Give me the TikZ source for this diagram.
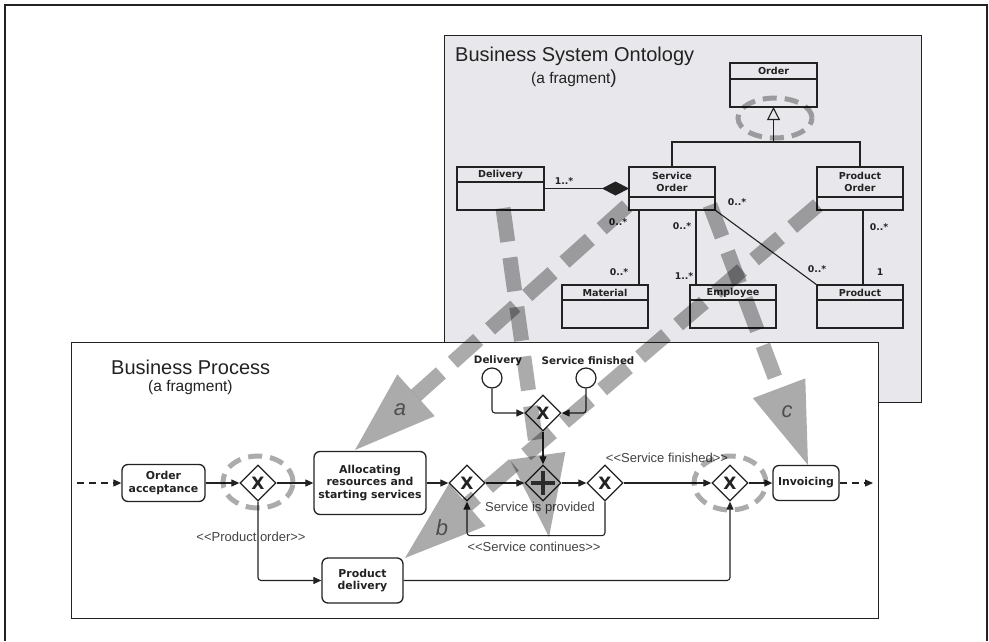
\documentclass[tikz,border=0pt]{standalone}
\usepackage{fontspec}
\setmainfont{Liberation Sans}
\newfontfamily\dvs{DejaVu Sans}
\usetikzlibrary{arrows.meta,calc,shapes.geometric}

\definecolor{ontobg}{HTML}{E8E8EC}
\definecolor{ink}{HTML}{222222}

\tikzset{
  frameline/.style={draw=ink, line width=1.4pt},
  umlbox/.style={draw=ink, line width=1.2pt, inner sep=0pt, outer sep=0pt},
  umlline/.style={draw=ink, line width=1.1pt},
  umltxt/.style={font=\dvs\bfseries\fontsize{9.6}{12}\selectfont, text=ink, align=center, inner sep=0pt},
  mult/.style={font=\dvs\bfseries\fontsize{9.3}{10}\selectfont, text=ink, inner sep=0pt},
  task/.style={draw=ink, line width=1.3pt, rounded corners=6pt, inner sep=0pt, align=center,
    font=\dvs\bfseries\fontsize{10.9}{12.4}\selectfont, text=ink},
  gate/.style={diamond, draw=ink, line width=1.3pt, fill=white, minimum width=36pt, minimum height=36pt,
    inner sep=0pt, font=\dvs\bfseries\fontsize{17}{17}\selectfont, text=ink},
  evt/.style={circle, draw=ink, line width=1.2pt, fill=white, minimum size=20pt, inner sep=0pt},
  evtlbl/.style={font=\dvs\bfseries\fontsize{10.3}{12}\selectfont, text=ink, inner sep=0pt},
  flow/.style={draw=ink, line width=1.1pt, -{Triangle[length=8pt,width=7pt]}, rounded corners=3pt},
  lbl/.style={font=\fontsize{13}{15}\selectfont, text=ink!85, inner sep=0pt},
  title/.style={font=\fontsize{20}{22}\selectfont, text=ink, inner sep=0pt},
  subtitle/.style={font=\fontsize{15.5}{18}\selectfont, text=ink, inner sep=0pt},
  hint/.style={black, opacity=0.33},
  hintlbl/.style={font=\itshape\fontsize{22}{24}\selectfont, text=ink!80, inner sep=0pt},
}

% UML class: name, left, top, right, bottom, divider y, label
\newcommand{\umlcls}[7]{%
  \node[umlbox, minimum width={#4-#2}, minimum height={#5-#3}] (#1) at ({(#2+#4)/2},{(#3+#5)/2}) {};
  \draw[umlline] (#1.west |- 0,#6) -- (#1.east |- 0,#6);
  \node[umltxt] at ({(#2+#4)/2},{(#3+#6)/2}) {#7};
}

% wide dashed hint arrow from a start coordinate to a tip coordinate
\newcommand{\hintarrow}[2]{%
  \coordinate (hb) at ($(#2)!82pt!(#1)$);
  \draw[hint, line width=15pt, dash pattern=on 34pt off 16pt] (#1) -- (hb);
  \fill[hint] ($(hb)!28pt!90:(#2)$) -- (#2) -- ($(hb)!28pt!-90:(#2)$) -- cycle;
}

\begin{document}
\begin{tikzpicture}[x=1pt,y=-1pt]
\useasboundingbox (0,0) rectangle (989,641);
\fill[white] (0,0) rectangle (989,641);

% outer frame
\draw[draw=ink, line width=2pt] (5,641) -- (5,5) -- (987,5) -- (987,641);

% ---------------- ontology panel ----------------
\node[frameline, fill=ontobg, minimum width=477pt, minimum height=367pt, inner sep=0pt, anchor=north west]
  (onto) at (444,35) {};
\node[title, anchor=base west] at (455,61) {Business System Ontology};
\node[subtitle, anchor=base west] at (531,83) {(a fragment{\fontsize{19}{20}\selectfont)}};

\umlcls{order}{730}{63}{817}{107}{79}{Order}
\umlcls{delivery}{457}{167}{544}{210}{182}{Delivery}
\umlcls{sorder}{629}{167}{715}{210}{197}{Service\\Order}
\umlcls{porder}{817}{167}{903}{210}{197}{Product\\Order}
\umlcls{material}{562}{285}{648}{328}{300}{Material}
\umlcls{employee}{690}{285}{776}{328}{300}{Employee}
\umlcls{product}{817}{285}{903}{328}{300}{Product}

% generalization
\coordinate (gj) at (773.5,142);
\draw[umlline] (sorder.north) |- (gj) -| (porder.north);
\draw[umlline, -{Triangle[open, length=13pt, width=13pt, line width=1.1pt]}] (gj) -- (order.south);

% composition
\draw[umlline, -{Diamond[length=27pt, width=14pt]}] (delivery.east) -- (sorder.west);

% associations
\draw[umlline] ([xshift=10pt]sorder.south west) -- ([xshift=10pt]sorder.south west |- material.north);
\draw[umlline] ([xshift=-19pt]sorder.south east) -- ([xshift=-19pt]sorder.south east |- employee.north);
\draw[umlline] (sorder.south east) -- (product.north west);
\draw[umlline] ([xshift=3pt]porder.south) -- ([xshift=3pt]product.north);

\node[mult] at (564,181) {1..*};
\node[mult] at (618,222) {0..*};
\node[mult] at (619,272) {0..*};
\node[mult] at (682,226) {0..*};
\node[mult] at (684,276) {1..*};
\node[mult] at (737,202) {0..*};
\node[mult] at (817,269) {0..*};
\node[mult] at (879,227) {0..*};
\node[mult] at (880,272) {1};

% ---------------- process panel ----------------
\node[frameline, fill=white, minimum width=807pt, minimum height=276pt, inner sep=0pt, anchor=north west]
  (proc) at (71,342) {};
\node[title, anchor=base west] at (111,374) {Business Process};
\node[subtitle, anchor=base west] at (148,391) {(a fragment)};

\node[task, minimum width=83pt, minimum height=37pt] (oa) at (163.5,483) {Order\\acceptance};
\node[task, minimum width=112pt, minimum height=63pt] (alloc) at (370,483) {Allocating\\resources and\\starting services};
\node[task, minimum width=81pt, minimum height=45pt] (pd) at (362.5,580.5) {Product\\delivery};
\node[task, minimum width=66pt, minimum height=35pt] (inv) at (806,483) {Invoicing};

\node[gate] (g1) at (258,483) {X};
\node[gate] (g2) at (467,483) {X};
\node[gate] (gp) at (543,483) {};
\draw[draw=ink!85, line width=4pt] ([yshift=-12pt]gp.center) -- ([yshift=12pt]gp.center)
  ([xshift=-12pt]gp.center) -- ([xshift=12pt]gp.center);
\node[gate] (g3) at (605,483) {X};
\node[gate] (g4) at (730,483) {X};
\node[gate] (gt) at (543,413) {X};

\node[evt] (e1) at (492,378) {};
\node[evt] (e2) at (586,378) {};
\node[evtlbl] at (498,361) {Delivery};
\node[evtlbl] at (588,361) {Service finished};

\coordinate (sc) at (77,483);
\coordinate (ec) at (873,483);
\draw[flow, dash pattern=on 7pt off 5pt] (sc) -- (oa.west);
\draw[flow] (oa.east) -- (g1.west);
\draw[flow] (g1.east) -- (alloc.west);
\draw[flow] (alloc.east) -- (g2.west);
\draw[flow] (g2.east) -- (gp.west);
\draw[flow] (gp.east) -- (g3.west);
\draw[flow] (g3.east) -- (g4.west);
\draw[flow] (g4.east) -- (inv.west);
\draw[flow, dash pattern=on 7pt off 5pt] (inv.east) -- (ec);
\draw[flow] (e1.south) |- (gt.west);
\draw[flow] (e2.south) |- (gt.east);
\draw[flow] (gt.south) -- (gp.north);
\draw[flow] (g3.south) -- ++(0,34) -| (g2.south);
\draw[flow] (g1.south) |- (pd.west);
\draw[flow] (pd.east) -| (g4.south);

\node[lbl] at (667,458) {<\kern0pt<Service finished>\kern0pt>};
\node[lbl] at (540,508) {Service is provided};
\node[lbl] at (534,547) {<\kern0pt<Service continues>\kern0pt>};
\node[lbl] at (251,537) {<\kern0pt<Product order>\kern0pt>};

% ---------------- hints between the two panels ----------------
\draw[hint, line width=5pt, dash pattern=on 14pt off 8pt] (775,118) ellipse [x radius=37pt, y radius=20pt];
\draw[hint, line width=5pt, dash pattern=on 14pt off 8pt] (258,482) ellipse [x radius=35pt, y radius=26pt];
\draw[hint, line width=5pt, dash pattern=on 14pt off 8pt] (730,483) ellipse [x radius=36pt, y radius=27pt];

\coordinate (sa) at (627,206);  \coordinate (ta) at (355,450);
\coordinate (sb) at (818,205);  \coordinate (tb) at (405,558);
\coordinate (scc) at (710,205); \coordinate (tc) at (808,465);
\coordinate (sd) at (503,208);  \coordinate (td) at (549,537);
\hintarrow{sa}{ta}
\hintarrow{sb}{tb}
\hintarrow{scc}{tc}
\hintarrow{sd}{td}

\node[hintlbl] at (400,410) {a};
\node[hintlbl] at (442,528) {b};
\node[hintlbl] at (787,412) {c};
\end{tikzpicture}
\end{document}
